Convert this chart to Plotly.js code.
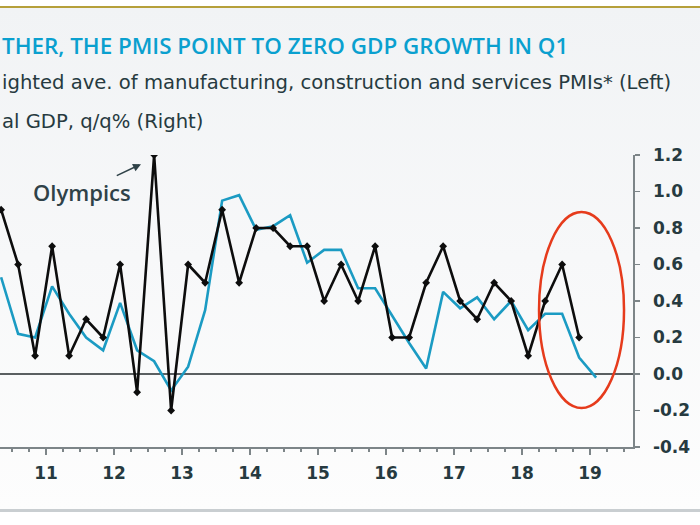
<!DOCTYPE html>
<html>
<head>
<meta charset="utf-8">
<script src="https://cdn.plot.ly/plotly-3.0.1.min.js"></script>
<style>
  html, body { margin: 0; padding: 0; background: #ffffff; }
  #frame { position: absolute; left: 0; top: 0; width: 700px; height: 525px; overflow: hidden; background: #ffffff; }
  #bg { position: absolute; left: 0; top: 6px; width: 700px; height: 506px;
        border-top: 2px solid #b6a03a; border-bottom: 3px solid #c9ced1;
        background: linear-gradient(#f1f3f5, #fdfdfd); box-sizing: border-box; }
  #chart { position: absolute; left: 0; top: 0; width: 700px; height: 525px; }
</style>
</head>
<body>
<div id="frame">
  <div id="bg"></div>
  <div id="chart"></div>
</div>
<script>
// ---- Data ----
const gdpQuarters = ['2010Q2','2010Q3','2010Q4','2011Q1','2011Q2','2011Q3','2011Q4',
  '2012Q1','2012Q2','2012Q3','2012Q4','2013Q1','2013Q2','2013Q3','2013Q4',
  '2014Q1','2014Q2','2014Q3','2014Q4','2015Q1','2015Q2','2015Q3','2015Q4',
  '2016Q1','2016Q2','2016Q3','2016Q4','2017Q1','2017Q2','2017Q3','2017Q4',
  '2018Q1','2018Q2','2018Q3','2018Q4'];
const gdpValues = [0.9,0.6,0.1,0.7,0.1,0.3,0.2,
  0.6,-0.1,1.2,-0.2,0.6,0.5,0.9,0.5,
  0.8,0.8,0.7,0.7,0.4,0.6,0.4,0.7,
  0.2,0.2,0.5,0.7,0.4,0.3,0.5,0.4,
  0.1,0.4,0.6,0.2];

const pmiQuarters = ['2010Q2','2010Q3','2010Q4','2011Q1','2011Q2','2011Q3','2011Q4',
  '2012Q1','2012Q2','2012Q3','2012Q4','2013Q1','2013Q2','2013Q3','2013Q4',
  '2014Q1','2014Q2','2014Q3','2014Q4','2015Q1','2015Q2','2015Q3','2015Q4',
  '2016Q1','2016Q2','2016Q3','2016Q4','2017Q1','2017Q2','2017Q3','2017Q4',
  '2018Q1','2018Q2','2018Q3','2018Q4','2019Q1'];
const pmiValues = [0.53,0.22,0.20,0.48,0.33,0.20,0.13,
  0.39,0.13,0.07,-0.09,0.04,0.35,0.95,0.98,
  0.79,0.81,0.87,0.61,0.68,0.68,0.47,0.47,
  0.32,0.17,0.03,0.45,0.36,0.42,0.30,0.40,
  0.24,0.33,0.33,0.09,-0.02];

const xTickVals = [2011,2012,2013,2014,2015,2016,2017,2018,2019];
const xTickText = ['11','12','13','14','15','16','17','18','19'];
const yTickVals = [-0.4,-0.2,0,0.2,0.4,0.6,0.8,1.0,1.2];
const yTickText = ['-0.4','-0.2','0.0','0.2','0.4','0.6','0.8','1.0','1.2'];

const titleText = 'THER, THE PMIS POINT TO ZERO GDP GROWTH IN Q1';
const legendLine1 = 'ighted ave. of manufacturing, construction and services PMIs* (Left)';
const legendLine2 = 'al GDP, q/q% (Right)';
const olympicsLabel = 'Olympics';

// quarter label -> decimal year position on the axis
function qpos(q) {
  const y = parseInt(q.slice(0, 4), 10);
  const n = parseInt(q.slice(5), 10);
  return y + (n - 1) * 0.25 + 0.09;
}

// ---- Layout geometry ----
const M = { l: 0, r: 67, t: 155, b: 78 };
const plotH = 525 - M.t - M.b;
function py(pix) { return (525 - M.b - pix) / plotH; }

const textColor = '#263a40';
const headFont = 'Open Sans, DejaVu Sans, sans-serif';
const bodyFont = 'DejaVu Sans, sans-serif';

const traces = [
  {
    x: pmiQuarters.map(qpos), y: pmiValues, type: 'scatter', mode: 'lines',
    line: { color: '#1b9bc3', width: 2.6 }, hoverinfo: 'skip', showlegend: false
  },
  {
    x: gdpQuarters.map(qpos), y: gdpValues, type: 'scatter', mode: 'lines+markers',
    line: { color: '#0d0d0d', width: 2.6 },
    marker: { color: '#0d0d0d', size: 6, symbol: 'diamond' },
    hoverinfo: 'skip', showlegend: false
  }
];

const layout = {
  width: 700, height: 525,
  margin: M,
  paper_bgcolor: 'rgba(0,0,0,0)',
  plot_bgcolor: 'rgba(0,0,0,0)',
  showlegend: false,
  xaxis: {
    range: [2010.3235, 2019.632],
    tickmode: 'array', tickvals: xTickVals, ticktext: xTickText,
    ticks: 'outside', ticklen: 6, tickwidth: 1.2, tickcolor: '#7d8588',
    showline: true, linecolor: '#7d8588', linewidth: 1.5,
    showgrid: false, zeroline: false,
    ticklabelstandoff: 4,
    tickfont: { family: 'DejaVu Sans', weight: 700, size: 17, color: textColor },
    minor: { dtick: 0.25, tick0: 2011, ticks: 'outside', ticklen: 3, tickwidth: 1.2, tickcolor: '#7d8588', showgrid: false },
    fixedrange: true
  },
  yaxis: {
    side: 'right',
    range: [-0.4, 1.2],
    tickmode: 'array', tickvals: yTickVals, ticktext: yTickText,
    ticks: 'outside', ticklen: 5, tickwidth: 1.2, tickcolor: '#7d8588',
    showline: true, linecolor: '#7d8588', linewidth: 1.5,
    showgrid: false,
    zeroline: true, zerolinecolor: '#5a5f61', zerolinewidth: 1.5,
    ticklabelstandoff: 10,
    tickfont: { family: 'DejaVu Sans', weight: 700, size: 17, color: textColor },
    fixedrange: true
  },
  shapes: [
    {
      type: 'circle', xref: 'x', yref: 'y',
      x0: 2018.25, x1: 2019.5, y0: -0.186, y1: 0.888,
      line: { color: '#e63b1c', width: 2.5 }
    }
  ],
  annotations: [
    {
      text: titleText, xref: 'paper', yref: 'paper', x: 0, y: py(45),
      xanchor: 'left', yanchor: 'middle', showarrow: false,
      font: { family: headFont, size: 22.4, weight: 600, color: '#0aa0cf' }
    },
    {
      text: legendLine1, xref: 'paper', yref: 'paper', x: 0, y: py(82),
      xanchor: 'left', yanchor: 'middle', showarrow: false,
      font: { family: bodyFont, size: 19.6, color: textColor }
    },
    {
      text: legendLine2, xref: 'paper', yref: 'paper', x: 0, y: py(121),
      xanchor: 'left', yanchor: 'middle', showarrow: false,
      font: { family: bodyFont, size: 19.6, color: textColor }
    },
    {
      text: olympicsLabel, xref: 'x', yref: 'y', x: 2012.397, y: 1.15,
      ax: -59, ay: 28, showarrow: true,
      arrowhead: 2, arrowsize: 1, arrowwidth: 1.6, arrowcolor: '#2f4248',
      font: { family: headFont, size: 22, weight: 600, color: '#2f4248' }
    }
  ]
};

Plotly.newPlot('chart', traces, layout, { staticPlot: true, displayModeBar: false });
</script>
</body>
</html>
